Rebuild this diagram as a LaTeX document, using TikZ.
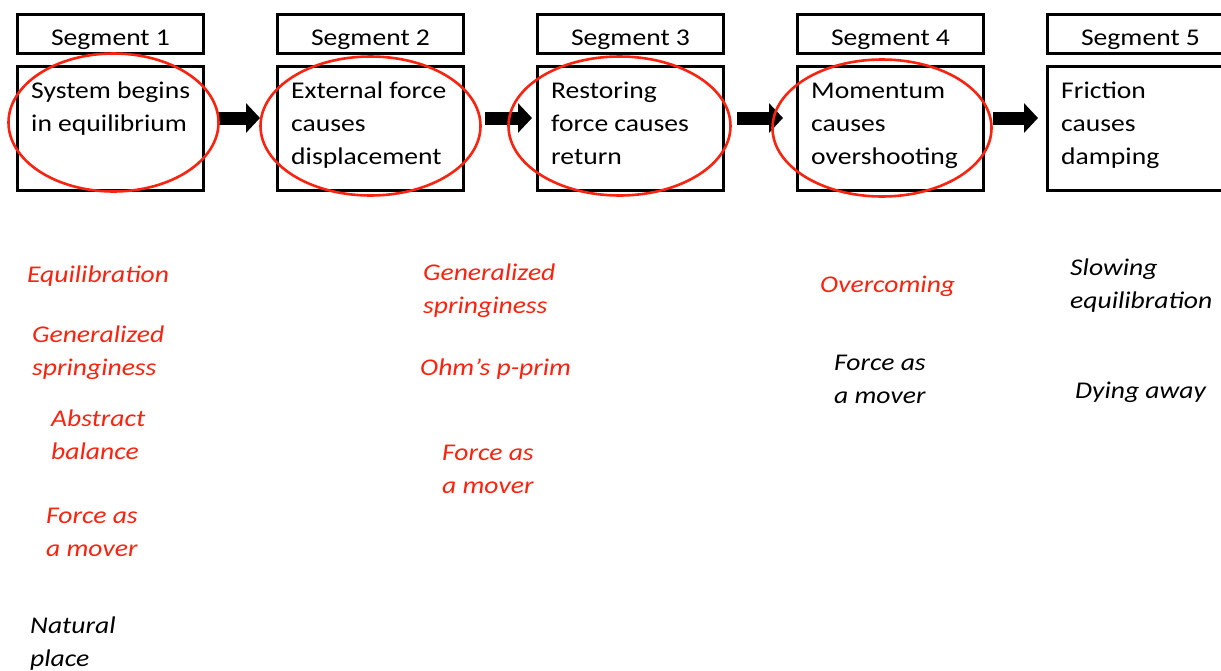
\documentclass[tikz,border=0pt]{standalone}
\usepackage{fontspec}
\setmainfont{Carlito}[FakeStretch=1.15]
\usetikzlibrary{arrows.meta,shapes.geometric}
\definecolor{markred}{RGB}{250,35,15}
% multi-line text whose baseline is the first line's baseline
\newcommand{\lines}[1]{\begin{tabular}[t]{@{}l@{}}#1\end{tabular}}
\begin{document}
\begin{tikzpicture}[x=1pt,y=-1pt,
  hdr/.style={draw, line width=3pt, minimum width=186pt, minimum height=39.5pt,
    inner sep=0pt, outer sep=0pt, anchor=north west},
  stagebox/.style={draw, line width=3pt, minimum width=186pt, minimum height=123.5pt,
    inner sep=0pt, outer sep=0pt, anchor=north west},
  hdrtext/.style={anchor=base, inner sep=0pt, font=\fontsize{24}{33}\selectfont},
  stagetext/.style={anchor=base west, inner sep=0pt, font=\fontsize{24}{33}\selectfont},
  idea/.style={anchor=base west, inner sep=0pt, font=\fontsize{24}{33}\selectfont\itshape},
  redidea/.style={idea, text=markred},
  ring/.style={ellipse, draw=markred, line width=2.6pt, inner sep=0pt},
  flow/.style={line width=13pt, line cap=butt, -{Triangle[length=14pt,width=29pt]}}
]
\useasboundingbox (0,0) rectangle (1221,670);
\clip (0,0) rectangle (1221,670);

% segment headers
\node[hdr] (h1) at (17.5,14) {};
\node[hdr] (h2) at (277.5,14) {};
\node[hdr] (h3) at (537.5,14) {};
\node[hdr] (h4) at (797.5,14) {};
\node[hdr] (h5) at (1047.5,14) {};
\node[hdrtext] (ht1) at (110.5,45) {Segment 1};
\node[hdrtext] (ht2) at (370.5,45) {Segment 2};
\node[hdrtext] (ht3) at (630.5,45) {Segment 3};
\node[hdrtext] (ht4) at (890.5,45) {Segment 4};
\node[hdrtext] (ht5) at (1140.5,45) {Segment 5};

% stage boxes
\node[stagebox] (m1) at (17.5,66.5) {};
\node[stagebox] (m2) at (277.5,66.5) {};
\node[stagebox] (m3) at (537.5,66.5) {};
\node[stagebox] (m4) at (797.5,66.5) {};
\node[stagebox] (m5) at (1047.5,66.5) {};
\node[stagetext] (mt1) at (31,98) {\lines{System begins\\in equilibrium}};
\node[stagetext] (mt2) at (291,98) {\lines{External force\\causes\\displacement}};
\node[stagetext] (mt3) at (551,98) {\lines{Restoring\\force causes\\return}};
\node[stagetext] (mt4) at (811,98) {\lines{Momentum\\causes\\overshooting}};
\node[stagetext] (mt5) at (1061,98) {\lines{Friction\\causes\\damping}};

% block arrows between stages
\coordinate (row) at (0,118);
\draw[flow, shorten <=13.5pt, shorten >=17.5pt] (m1.east |- row) -- (m2.west |- row);
\draw[flow, shorten <=21.5pt, shorten >=5.5pt] (m2.east |- row) -- (m3.west |- row);
\draw[flow, shorten <=13.5pt, shorten >=14.5pt] (m3.east |- row) -- (m4.west |- row);
\draw[flow, shorten <=9.5pt, shorten >=9.5pt] (m4.east |- row) -- (m5.west |- row);

% red rings round the first four stages
\node[ring, minimum width=210pt, minimum height=138pt] (r1) at (113.5,122.5) {};
\node[ring, minimum width=220pt, minimum height=139pt] (r2) at (370.5,126) {};
\node[ring, minimum width=222pt, minimum height=139pt] (r3) at (619.5,126) {};
\node[ring, minimum width=219pt, minimum height=137pt] (r4) at (882,128) {};

% segment 1 ideas
\node[redidea] (a1) at (27,282) {Equilibration};
\node[redidea] (a2) at (32,342) {\lines{Generalized\\springiness}};
\node[redidea] (a3) at (51,426) {\lines{Abstract\\balance}};
\node[redidea] (a4) at (46,523) {\lines{Force as\\a mover}};
\node[idea] (a5) at (30,633) {\lines{Natural\\place}};

% segment 2 ideas
\node[redidea] (b1) at (423,280) {\lines{Generalized\\springiness}};
\node[redidea] (b2) at (420,375) {Ohm’s p-prim};
\node[redidea] (b3) at (442,460) {\lines{Force as\\a mover}};

% segment 4 ideas
\node[redidea] (c1) at (820,292) {Overcoming};
\node[idea] (c2) at (834,370) {\lines{Force as\\a mover}};

% segment 5 ideas
\node[idea] (d1) at (1070,275) {\lines{Slowing\\equilibration}};
\node[idea] (d2) at (1075,398) {Dying away};
\end{tikzpicture}
\end{document}
